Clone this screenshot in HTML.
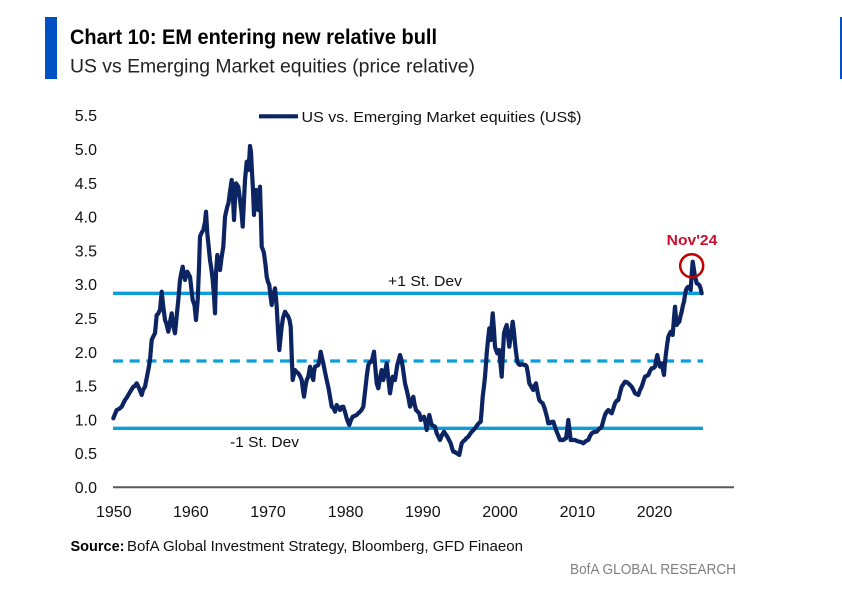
<!DOCTYPE html>
<html>
<head>
<meta charset="utf-8">
<style>
html,body{margin:0;padding:0;background:#fff;}
svg{display:block;}
text{font-family:"Liberation Sans",Arial,sans-serif;}
</style>
</head>
<body>
<svg width="842" height="600" viewBox="0 0 842 600" xmlns="http://www.w3.org/2000/svg">
<rect x="0" y="0" width="842" height="600" fill="#fff"/>
<!-- side bars -->
<rect x="45" y="17" width="12" height="62" fill="#0052c4"/>
<rect x="840" y="17" width="2" height="62" fill="#0052c4"/>
<!-- titles -->
<text x="70" y="44" font-size="21" font-weight="bold" fill="#000" textLength="367" lengthAdjust="spacingAndGlyphs">Chart 10: EM entering new relative bull</text>
<text x="70" y="72.5" font-size="19.5" fill="#222" textLength="405" lengthAdjust="spacingAndGlyphs">US vs Emerging Market equities (price relative)</text>

<!-- legend -->
<line x1="259" y1="116.3" x2="298" y2="116.3" stroke="#0c2461" stroke-width="4.2"/>
<text x="301.5" y="122" font-size="15" fill="#111" textLength="280" lengthAdjust="spacingAndGlyphs">US vs. Emerging Market equities (US$)</text>

<!-- y axis labels -->
<g font-size="16" fill="#111" text-anchor="end">
<text x="97" y="121.2">5.5</text>
<text x="97" y="155">5.0</text>
<text x="97" y="188.8">4.5</text>
<text x="97" y="222.6">4.0</text>
<text x="97" y="256.4">3.5</text>
<text x="97" y="290.2">3.0</text>
<text x="97" y="324">2.5</text>
<text x="97" y="357.8">2.0</text>
<text x="97" y="391.6">1.5</text>
<text x="97" y="425.4">1.0</text>
<text x="97" y="459.2">0.5</text>
<text x="97" y="493">0.0</text>
</g>
<!-- x axis labels -->
<g font-size="16" fill="#111" text-anchor="middle">
<text x="113.8" y="517">1950</text>
<text x="190.8" y="517">1960</text>
<text x="268" y="517">1970</text>
<text x="345.6" y="517">1980</text>
<text x="422.8" y="517">1990</text>
<text x="500" y="517">2000</text>
<text x="577.4" y="517">2010</text>
<text x="654.5" y="517">2020</text>
</g>
<!-- x axis -->
<line x1="113" y1="487.3" x2="734" y2="487.3" stroke="#595959" stroke-width="2"/>

<!-- reference lines -->
<line x1="113" y1="293.3" x2="703" y2="293.3" stroke="#0a9fdc" stroke-width="3.3"/>
<line x1="113" y1="361" x2="703" y2="361" stroke="#0a9fdc" stroke-width="3.3" stroke-dasharray="10 6.7"/>
<line x1="113" y1="428.3" x2="703" y2="428.3" stroke="#0a9fdc" stroke-width="3.3"/>
<text x="388" y="286" font-size="15" fill="#111" textLength="74" lengthAdjust="spacingAndGlyphs">+1 St. Dev</text>
<text x="230" y="447" font-size="15" fill="#111" textLength="69" lengthAdjust="spacingAndGlyphs">-1 St. Dev</text>

<!-- series -->
<polyline fill="none" stroke="#0c2461" stroke-width="4.2" stroke-linejoin="round" stroke-linecap="round" points="
113.3,418.3 115,414 116.7,410 119,409 121.7,406.7 123,404 125,400 126.5,398 128.3,395 130,392 133.3,386.7 135,386 136.7,383.3 139,388 141.7,395 143,390 145,386.7 146.5,379 148.3,370 150,360 151.7,340 153,337 155,333.3 156.7,315 158,314 160,310 161.7,291.7 163.3,306.7 165,320 166.5,324 168.3,331.7 170,322 171.7,313.3 173,325 175,333.3 176.5,318 178.3,300 180,280 181.5,272 182.7,266.7 184,275 185,280 187.3,271.7 190,276.7 191.5,290 192.7,300 194.5,305 196,320 197.7,300 199,268 200,236.7 201.5,233 203.3,230 205,222 206,211.7 207.3,233.3 208.5,245 210,260 211.5,270 212.7,280 214,296 215,313.3 216,273.3 217.3,255 218.5,262 220,270 221.5,258 223.3,246.7 225,216.7 227.3,206.7 228.5,203 230,191.7 231.7,180 233,198 234,220 235,200 236,183.3 238.3,186.7 240,200 241.5,212 242.7,226.7 244,200 245,180 246.7,161.7 248.3,170 249.5,155 250,146 251,152 251.7,166.7 253,190 254,215 255,200 256,190 257,198 258.3,210 259.2,200 260,186.7 261,220 261.7,246.7 263,250 264,253.3 265.5,265 266.7,276.7 268,282 269.3,285 270.5,296 271.7,305 273,296 275,288.3 276,298 276.7,306.7 278,330 279.3,350 280.5,338 281.7,326.7 283,318 285,311.7 286.5,314 288.3,316.7 289.5,320 290.7,326.7 291.7,355 292.7,380 294,374 295,370 296.5,372 298.3,373.3 300,376 301.7,380 303,390 304,396.7 305.5,386 306.7,380 308.3,376.7 310,366.7 311.5,374 313.3,380 314,372 315,366.7 316.5,366 318.3,365 319.5,360 320.7,351.7 322,358 323.3,363.3 325,372 326.7,380 328.5,388 330,396.7 331.7,406.7 333.5,408 335,411.7 336.7,405 338.5,408 340,410 341.5,407 343.3,406.7 345,412 346.7,418.3 348,422 349.3,425 351,420 352.7,416.7 354.5,416 356.7,415 358.5,413 360,411.7 361.5,410 363.3,406.7 365,392 366.7,376.7 368.3,365 370,362 371.7,361.7 373,356 374,351.7 375.5,370 376.7,383.3 378.3,388.3 380,378 381.7,370 383.3,380 385,372 386.7,363.3 388.5,380 390,393.3 391.5,384 392.7,376.7 394,380 395,380 396.2,372 397.3,365 398.7,360 400,355 401.5,360 402.7,366.7 404,376 405,383.3 406.7,390 408.5,398 410,406.7 411.5,402 413.3,396.7 414.5,404 416,410 418,412 419.3,413.3 420.7,420 422.5,418 424,416.7 425.5,423 426.7,430 428,422 429.3,415 430.5,420 431.7,425 433.5,426 435,426.7 436.7,433.3 438.5,437 440,440 442,435 444,431.7 445.5,434 447.3,436.7 449,440 450.7,443.3 452,448 453.3,451.7 455,452 456.7,453.3 458,454 459.3,455 460.5,449 461.7,443.3 463.5,441 465,440 466.5,438 468.3,436.7 470,434 471.7,431.7 473.5,430 475,428.3 476,427 477.3,425 479,423 480.7,421.7 481.7,410 482.7,396.7 484,386 485,376.7 486,364 486.7,353.3 488,340 489.3,328.3 490.7,340 491.7,326 492.7,313.3 494,330 495,346.7 496,350 497.3,353.3 499.3,350 500.5,364 501.7,376.7 502.8,355 504,333.3 505.3,329 506.7,325 508,336 509.3,346.7 511,334 512.7,321.7 514,332 515,343.3 516,352 517.3,361.7 518.5,364 520,365 522,364 524,365 525.5,365 526.7,366.7 528,374 529.3,383.3 531.5,387 533.3,390 534.5,386 536,383.3 537.5,392 539.3,400 541,402 542.7,403.3 544.5,408 546,413.3 547.2,418 548.3,423.3 550,423.3 551.5,422 553.3,421.7 555,427 556.7,431.7 558.5,436 560,440 561.5,440 563.3,440 564.5,439 566,438.3 567.2,430 568.3,420 569.5,430 570.7,440 573,440 575,440 577,441 579.3,441.7 581,442 583.3,443.3 586,441 588.3,440 590,436 591.7,433.3 594,432 596.7,431.7 599,429 601.7,426.7 603.5,420 605,415 606.5,412 608.3,410 610,412 611.7,413.3 613.5,408 615,403.3 616.5,401 618.3,400 620,393 621.7,386.7 623.5,384 625,381.7 626.5,382 628.3,383.3 630,385 631.7,386.7 633.5,390 635,393.3 636.5,394 638.3,395 640,390 641.7,386.7 643.5,381 645,376.7 646.5,376 648.3,375 650,371 651.7,368.3 653.5,368 655,366.7 656.2,360 657.3,355 658.7,362 660,366.7 661.7,363.3 663,370 664,375 665,362 666,353.3 667.2,344 668.3,336.7 669.5,334 670.7,331.7 672.7,335 674,318 675,306.7 676,318 676.7,325 678,323 679.3,321.7 680.5,316 681.7,311.7 683,305 684,301.7 685,295 686,290 687,288 688.3,286.7 689.5,288 690.7,290 691.7,274 692.7,261.7 694,270 695,276.7 696,280 696.7,283.3 698,284 699.3,285 700.5,288 701.7,293.3"/>

<!-- annotation -->
<circle cx="691.7" cy="265.7" r="11.5" fill="none" stroke="#c00000" stroke-width="2.5"/>
<text x="666.7" y="245" font-size="15" font-weight="bold" fill="#c8102e" textLength="50.6" lengthAdjust="spacingAndGlyphs">Nov'24</text>

<!-- source -->
<text x="70.5" y="551" font-size="15" font-weight="bold" fill="#000" textLength="54" lengthAdjust="spacingAndGlyphs">Source:</text>
<text x="127" y="551" font-size="15" fill="#111" textLength="396" lengthAdjust="spacingAndGlyphs">BofA Global Investment Strategy, Bloomberg, GFD Finaeon</text>
<text x="570" y="574" font-size="15" fill="#7f7f7f" textLength="166" lengthAdjust="spacingAndGlyphs">BofA GLOBAL RESEARCH</text>
</svg>
</body>
</html>
